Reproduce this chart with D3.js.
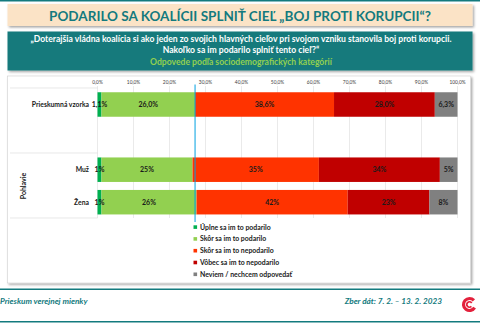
<!DOCTYPE html>
<html lang="sk">
<head>
<meta charset="UTF-8">
<title>Podarilo sa koalícii splniť cieľ</title>
<style>
    body { margin: 0; padding: 0; background: #fff; font-family: Lato, "Open Sans", sans-serif; }
    svg { display: block; }
</style>
</head>
<body>
<div id="chart"></div>
<script src="https://d3js.org/d3.v7.min.js"></script>
<script>
// data
const categories = ["Prieskumná vzorka", "Muž", "Žena"];
const seriesNames = ["Úplne sa im to podarilo", "Skôr sa im to podarilo", "Skôr sa im to nepodarilo", "Vôbec sa im to nepodarilo", "Neviem / nechcem odpovedať"];
const seriesColors = ["#00b050", "#92d050", "#ff3300", "#c00000", "#808080"];
const values = [
    [1.1, 26.0, 38.6, 28.0, 6.3],
    [1.1, 25.3, 35.1, 33.6, 4.9],
    [1.1, 26.4, 42.0, 22.7, 7.8]
];
const labelDecimals = [1, 0, 0];
const ticks = [0, 10, 20, 30, 40, 50, 60, 70, 80, 90, 100];
const refValue = 27.1;

const W = 480, H = 323;
const svg = d3.select("#chart").append("svg").attr("width", W).attr("height", H);

const teal = "#137a7e";
const defs = svg.append("defs");
const f = defs.append("filter").attr("id", "sh").attr("x", "-5%").attr("y", "-20%").attr("width", "110%").attr("height", "150%");
f.append("feDropShadow").attr("dx", 1.5).attr("dy", 1.5).attr("stdDeviation", 1).attr("flood-color", "#000").attr("flood-opacity", 0.35);

// top line
svg.append("rect").attr("x", 0).attr("y", 0).attr("width", W).attr("height", 1.5).attr("fill", teal);

// title box
svg.append("rect").attr("x", 7.5).attr("y", 4).attr("width", 465).attr("height", 22)
    .attr("fill", "#fbe3c6").attr("filter", "url(#sh)");
svg.append("text").attr("x", 240).attr("y", 20.5).attr("text-anchor", "middle")
    .attr("font-size", 13.5).attr("font-weight", "bold").attr("fill", teal)
    .text("PODARILO SA KOALÍCII SPLNIŤ CIEĽ „BOJ PROTI KORUPCII“?");

// question box
svg.append("rect").attr("x", 7.5).attr("y", 31.5).attr("width", 465).attr("height", 39)
    .attr("fill", "#167a7c").attr("filter", "url(#sh)");
const q = svg.append("g").attr("text-anchor", "middle").attr("font-weight", "bold").attr("font-size", 8.6);
q.append("text").attr("x", 241).attr("y", 42).attr("fill", "#fff")
    .text("„Doterajšia vládna koalícia si ako jeden zo svojich hlavných cieľov pri svojom vzniku stanovila boj proti korupcii.");
q.append("text").attr("x", 241).attr("y", 53).attr("fill", "#fff").text("Nakoľko sa im podarilo splniť tento cieľ?“");
q.append("text").attr("x", 241).attr("y", 64.5).attr("fill", "#92d050").text("Odpovede podľa sociodemografických kategórií");

// chart panel
svg.append("rect").attr("x", 7.5).attr("y", 76).attr("width", 463).attr("height", 207)
    .attr("fill", "#fff").attr("stroke", "#d0d0d0").attr("stroke-width", 0.6).attr("filter", "url(#sh)");

const x = d3.scaleLinear().domain([0, 100]).range([97.5, 457.5]);
const y = d3.scaleOrdinal().domain(categories).range([104.5, 169.7, 202.2]);
const barH = 24.5;

// gridlines
svg.append("g").selectAll("line").data(ticks).join("line")
    .attr("x1", d => x(d)).attr("x2", d => x(d)).attr("y1", 86).attr("y2", 218)
    .attr("stroke", "#dcdcdc").attr("stroke-width", 0.6);

// tick labels
svg.append("g").selectAll("text").data(ticks).join("text")
    .attr("x", d => x(d)).attr("y", 83.5).attr("text-anchor", "middle")
    .attr("font-size", 4.8).attr("fill", "#404040")
    .text(d => d.toFixed(1).replace(".", ",") + "%");

// category axis lines
svg.append("g").selectAll("line").data([88, 153, 218]).join("line")
    .attr("x1", 10).attr("x2", 97.5).attr("y1", d => d).attr("y2", d => d)
    .attr("stroke", "#d9d9d9").attr("stroke-width", 0.6);

// stacked bars
const rows = categories.map((c, i) => {
    let acc = 0;
    return values[i].map((v, j) => {
        const s = { cat: c, row: i, series: j, x0: acc, x1: acc + v, v: v };
        acc += v;
        return s;
    });
}).flat();

svg.append("g").selectAll("rect").data(rows).join("rect")
    .attr("x", d => x(d.x0)).attr("width", d => x(d.x1) - x(d.x0))
    .attr("y", d => y(d.cat) - barH / 2).attr("height", barH)
    .attr("fill", d => seriesColors[d.series]);

svg.append("g").selectAll("text").data(rows).join("text")
    .attr("x", d => (x(d.x0) + x(d.x1)) / 2).attr("y", d => y(d.cat) + 2.5)
    .attr("text-anchor", "middle").attr("font-size", 7).attr("font-weight", "bold").attr("fill", "#1a1a1a")
    .text(d => d.v.toFixed(labelDecimals[d.row]).replace(".", ",") + "%");

// category labels
svg.append("g").selectAll("text").data(categories).join("text")
    .attr("x", 89).attr("y", d => y(d) + 2.5).attr("text-anchor", "end")
    .attr("font-size", 6.8).attr("font-weight", "bold").attr("fill", "#1a1a1a")
    .text(d => d);

svg.append("text").attr("transform", "translate(25.5,186) rotate(-90)")
    .attr("text-anchor", "middle").attr("font-size", 7).attr("font-weight", "bold").attr("fill", "#1a1a1a")
    .text("Pohlavie");

// reference line
svg.append("line").attr("x1", x(refValue)).attr("x2", x(refValue)).attr("y1", 84.5).attr("y2", 222)
    .attr("stroke", "#00a0e0").attr("stroke-width", 1);

// legend
const lg = svg.append("g").selectAll("g").data(seriesNames).join("g")
    .attr("transform", (d, i) => `translate(193.5,${229.5 + i * 11.8})`);
lg.append("rect").attr("x", 0).attr("y", -4.2).attr("width", 3.6).attr("height", 3.6)
    .attr("fill", (d, i) => seriesColors[i]);
lg.append("text").attr("x", 6.5).attr("y", 0).attr("font-size", 6.9).attr("font-weight", "bold").attr("fill", "#1a1a1a")
    .text(d => d);

// footer
svg.append("rect").attr("x", 0).attr("y", 288.5).attr("width", W).attr("height", 1.5).attr("fill", teal);
svg.append("rect").attr("x", 0).attr("y", 321).attr("width", W).attr("height", 1.5).attr("fill", teal);
svg.append("text").attr("x", 0).attr("y", 303.5).attr("font-size", 8.2).attr("font-style", "italic").attr("font-weight", "bold")
    .attr("fill", teal).text("Prieskum verejnej mienky");
svg.append("text").attr("x", 442).attr("y", 303.5).attr("text-anchor", "end").attr("font-size", 8.2)
    .attr("font-style", "italic").attr("font-weight", "bold").attr("fill", teal).text("Zber dát: 7. 2. – 13. 2. 2023");

// logo
const logo = svg.append("g").attr("transform", "translate(469.5,304.5)");
const arc = d3.arc();
logo.append("path").attr("d", arc({ innerRadius: 4.4, outerRadius: 7.6, startAngle: Math.PI / 2 + 0.55, endAngle: Math.PI / 2 + 2 * Math.PI - 0.75 }))
    .attr("fill", "#e3213c");
logo.append("path").attr("d", arc({ innerRadius: 1.8, outerRadius: 3.6, startAngle: Math.PI / 2 + 0.8, endAngle: Math.PI / 2 + 2 * Math.PI - 0.6 }))
    .attr("fill", "#e3213c");
</script>
</body>
</html>
